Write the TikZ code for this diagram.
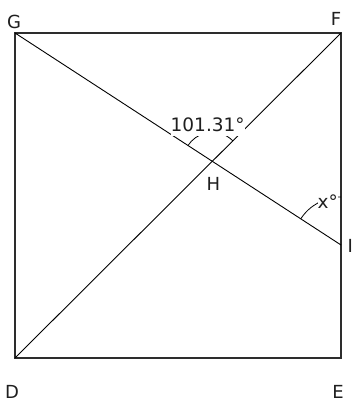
\documentclass[tikz,border=0pt]{standalone}
\usepackage{fontspec}
\setmainfont{DejaVu Sans}
\usetikzlibrary{angles}
\definecolor{sqcol}{RGB}{45,45,45}
\begin{document}
\begin{tikzpicture}[x=1pt,y=1pt,
  side/.style={draw=sqcol, line width=1.5pt},
  diag/.style={draw=black, line width=0.9pt},
  lbl/.style={font=\fontsize{18}{20}\selectfont, inner sep=0pt, anchor=base, text=black!88},
  anglbl/.style={font=\fontsize{18.5}{20}\selectfont, inner xsep=0pt, inner ysep=0pt, anchor=base west, fill=white, text=black!88},
  anglemark/.style={draw=black, line width=0.8pt}]
\useasboundingbox (0,0) rectangle (354,406);
\coordinate (G) at (15,373);
\coordinate (F) at (341,373);
\coordinate (E) at (341,48);
\coordinate (D) at (15,48);
\coordinate (I) at (341,161);
\coordinate (H) at (intersection of G--I and D--F);
% square
\draw[side] (G) -- (F) -- (E) -- (D) -- cycle;
% diagonals
\draw[diag] (G) -- (I);
\draw[diag] (D) -- (F);
% angle marks
\pic[anglemark, angle radius=29pt] {angle=F--H--G};
\pic[anglemark, angle radius=48pt] {angle=F--I--G};
% angle labels
\node[anglbl, text height=15pt, text depth=3.8pt] (a1) at (170.5,274) {101.31°};
\node[anglbl, text height=15.3pt, text depth=8.7pt] (a2) at (317.5,197.7) {x°\hspace{5pt}};
% point labels
\node[lbl] (lG) at (14,377) {G};
\node[lbl] (lF) at (336,380) {F};
\node[lbl] (lD) at (12,7.7) {D};
\node[lbl] (lE) at (338,7.7) {E};
\node[lbl] (lH) at (213.4,215) {H};
\node[lbl, anchor=base west] (lI) at (347.5,153) {I};
\end{tikzpicture}
\end{document}
